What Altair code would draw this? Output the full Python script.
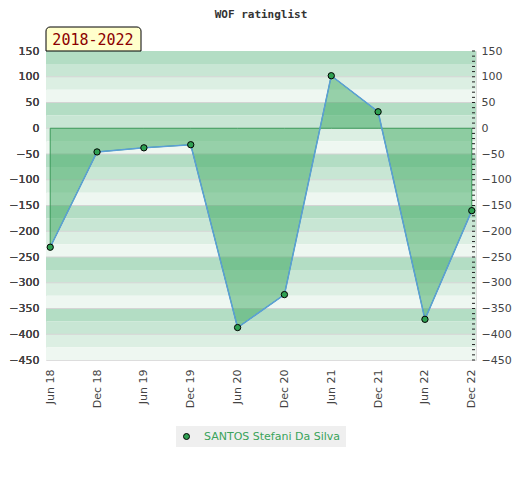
import altair as alt
import pandas as pd

periods = ["Jun 18", "Dec 18", "Jun 19", "Dec 19", "Jun 20", "Dec 20",
           "Jun 21", "Dec 21", "Jun 22", "Dec 22"]
ratings = [-231, -46, -38, -32, -387, -323, 102, 32, -371, -160]
player = "SANTOS Stefani Da Silva"
y_ticks = list(range(-450, 151, 50))
minor_ticks = list(range(-450, 151, 10))

df = pd.DataFrame({"period": periods, "rating": ratings, "name": [player] * len(periods)})

band_colors = ["#b3ddc4", "#c8e6d4", "#dcefe3", "#eef7f1"]
bands = pd.DataFrame({
    "top": [t for t in range(150, -450, -25)],
})
bands["bottom"] = bands["top"] - 25
bands["c"] = [band_colors[((150 - t) % 100) // 25] for t in bands["top"]]
grid = pd.DataFrame({"g": [v for v in y_ticks if -450 < v < 150]})
minor = pd.DataFrame({"m": minor_ticks})

W, H = 430, 309
yscale = alt.Scale(domain=[-450, 150], nice=False, zero=False)
xscale = alt.Scale(domain=periods, padding=0.09)

x_enc = alt.X("period:N", scale=xscale, sort=periods, title=None,
              axis=alt.Axis(labelAngle=270, labelFont="DejaVu Sans", labelFontSize=11,
                            labelColor="#444", tickSize=0, domain=False, labelPadding=9,
                            grid=False))
y_left = alt.Y("rating:Q", scale=yscale,
               axis=alt.Axis(values=y_ticks, orient="left", title=None, grid=False,
                             tickSize=0, domain=False, labelPadding=7,
                             labelFont="DejaVu Sans", labelFontSize=11, labelColor="#444"))

band_layer = alt.Chart(bands).mark_rect().encode(
    y=alt.Y("top:Q", scale=yscale, axis=None),
    y2="bottom:Q",
    x=alt.value(0), x2=alt.value(W),
    fill=alt.Fill("c:N", scale=None),
)

grid_layer = alt.Chart(grid).mark_rule(color="#d4d4d4", strokeWidth=1).encode(
    y=alt.Y("g:Q", scale=yscale, axis=None),
    x=alt.value(0), x2=alt.value(W),
)

area = alt.Chart(df).mark_area(
    color="#37a659", fillOpacity=0.48, stroke="#3a9a5a", strokeWidth=1, strokeOpacity=1
).encode(
    x=x_enc,
    y=y_left,
    y2=alt.datum(0),
)

right_axis = alt.Chart(df).mark_point(opacity=0).encode(
    x=x_enc,
    y=alt.Y("rating:Q", scale=yscale,
            axis=alt.Axis(values=y_ticks, orient="right", title=None, grid=False,
                          tickSize=0, domain=False,
                          labelPadding=5, labelFont="DejaVu Sans", labelFontSize=11,
                          labelColor="#444")),
)

minor_layer = alt.Chart(minor).mark_rule(color="#222", strokeWidth=1).encode(
    y=alt.Y("m:Q", scale=yscale, axis=None),
    x=alt.value(W - 4), x2=alt.value(W - 1),
)

line = alt.Chart(df).mark_line(color="#5b9fd8", strokeWidth=1.5).encode(
    x=x_enc,
    y=y_left,
)

points = alt.Chart(df).mark_point(filled=True, size=40, stroke="black", strokeWidth=1,
                                  opacity=1).encode(
    x=x_enc,
    y=y_left,
    color=alt.Color("name:N", scale=alt.Scale(domain=[player], range=["#2fa052"]),
                    legend=alt.Legend(orient="none", legendX=130, legendY=375, title=None,
                                      fillColor="#efefef", padding=5, labelOffset=12,
                                      labelColor="#3aa35a", labelFont="DejaVu Sans",
                                      labelFontSize=11, symbolType="circle", symbolSize=36,
                                      symbolStrokeColor="black", symbolStrokeWidth=1,
                                      symbolFillColor="#2fa052")),
)

title_df = pd.DataFrame({"t": ["WOF ratinglist"]})
title = alt.Chart(title_df).mark_text(
    font="DejaVu Sans Mono", fontWeight="bold", fontSize=11, color="#333",
    baseline="middle", align="center"
).encode(text="t:N", x=alt.value(215), y=alt.value(-36.5))

box_df = pd.DataFrame({"t": ["2018-2022"]})
box = alt.Chart(box_df).mark_rect(
    fill="#ffffcc", stroke="black", strokeWidth=1,
    cornerRadiusTopLeft=4, cornerRadiusTopRight=4
).encode(x=alt.value(0), x2=alt.value(95), y=alt.value(-24), y2=alt.value(0))
box_text = alt.Chart(box_df).mark_text(
    font="DejaVu Sans Mono", fontSize=15, color="#8b0000", align="center",
    baseline="alphabetic"
).encode(text="t:N", x=alt.value(47), y=alt.value(-6))

chart = alt.layer(
    band_layer, grid_layer, area, right_axis, minor_layer, line, points, box, box_text, title
).properties(
    width=W, height=H,
    autosize=alt.AutoSizeParams(type="pad"),
    padding={"left": 0, "top": 0, "right": 0, "bottom": 0},
).configure_view(stroke="#d8d8d8", strokeWidth=1).configure(background="white")

chart.save("out.html", embed_options={"renderer": "svg", "actions": False})
